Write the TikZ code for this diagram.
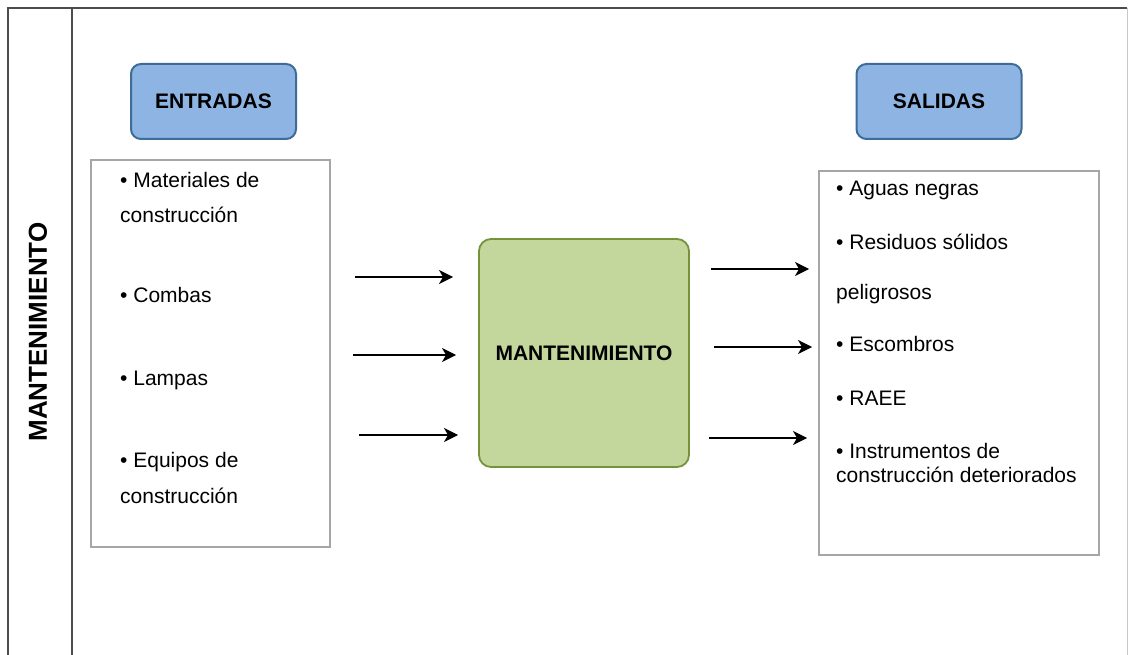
\documentclass[tikz,border=0pt]{standalone}
\usepackage{fontspec}
\setmainfont{Liberation Sans}
\usetikzlibrary{arrows.meta}
\definecolor{frameline}{HTML}{4D4D4D}
\definecolor{framelight}{HTML}{C8C8C8}
\definecolor{hdrfill}{HTML}{8DB4E2}
\definecolor{hdrborder}{HTML}{3E6C99}
\definecolor{procfill}{HTML}{C3D69B}
\definecolor{procborder}{HTML}{76923C}
\definecolor{listborder}{HTML}{A6A6A6}
\begin{document}
\begin{tikzpicture}[x=1pt,y=-1pt,
  header/.style={draw=hdrborder,fill=hdrfill,line width=2pt,rounded corners=10pt,
    minimum width=165pt,minimum height=75pt,inner sep=0pt,
    font=\fontsize{21}{25}\selectfont\bfseries},
  process/.style={draw=procborder,fill=procfill,line width=1.8pt,rounded corners=12pt,
    minimum width=210pt,minimum height=228pt,inner sep=0pt,
    font=\fontsize{21}{25}\selectfont\bfseries},
  listbox/.style={draw=listborder,line width=1.2pt,fill=white,inner sep=0pt},
  item/.style={anchor=base west,inner sep=0pt,font=\fontsize{21}{25}\selectfont},
  flow/.style={-{Stealth[length=14pt,width=14pt,inset=4pt]},line width=1.3pt,black}]
\useasboundingbox (0,0) rectangle (1128,655);
\fill[white] (0,0) rectangle (1128,655);

% outer frame and title column
\draw[frameline,line width=2pt] (8,655) -- (8,8) -- (1127,8);
\draw[framelight,line width=1pt] (1127,8) -- (1127,655);
\draw[frameline,line width=2pt] (72,8) -- (72,655);
\node[rotate=90,inner sep=0pt,font=\fontsize{26}{30}\selectfont\bfseries] (title) at (38,332) {MANTENIMIENTO};

% headers
\node[header] (entradas) at (213.5,101.5) {ENTRADAS};
\node[header] (salidas) at (939,101.5) {SALIDAS};

% input list
\node[listbox,minimum width=239pt,minimum height=387pt] (inbox) at (210.5,353.5) {};
\node[item] (in1a) at (120,188) {• Materiales de};
\node[item] (in1b) at (120,223) {construcción};
\node[item] (in2) at (120,303) {• Combas};
\node[item] (in3) at (120,385) {• Lampas};
\node[item] (in4a) at (120,467) {• Equipos de};
\node[item] (in4b) at (120,503) {construcción};

% output list
\node[listbox,minimum width=280pt,minimum height=384pt] (outbox) at (959,363) {};
\node[item] (out1) at (836,196) {• Aguas negras};
\node[item] (out2a) at (836,250) {• Residuos sólidos};
\node[item] (out2b) at (836,300) {peligrosos};
\node[item] (out3) at (836,351) {• Escombros};
\node[item] (out4) at (836,405) {• RAEE};
\node[item] (out5a) at (836,458) {• Instrumentos de};
\node[item] (out5b) at (836,482) {construcción deteriorados};

% process
\node[process] (proc) at (584,353) {MANTENIMIENTO};

% flow arrows
\coordinate (ia1) at (355,277); \coordinate (ib1) at (453,277);
\coordinate (ia2) at (353,355); \coordinate (ib2) at (456,355);
\coordinate (ia3) at (359,435); \coordinate (ib3) at (458,435);
\coordinate (oa1) at (711,269); \coordinate (ob1) at (809,269);
\coordinate (oa2) at (714,347); \coordinate (ob2) at (812,347);
\coordinate (oa3) at (709,438); \coordinate (ob3) at (807,438);
\draw[flow] (ia1) -- (ib1);
\draw[flow] (ia2) -- (ib2);
\draw[flow] (ia3) -- (ib3);
\draw[flow] (oa1) -- (ob1);
\draw[flow] (oa2) -- (ob2);
\draw[flow] (oa3) -- (ob3);
\end{tikzpicture}
\end{document}
